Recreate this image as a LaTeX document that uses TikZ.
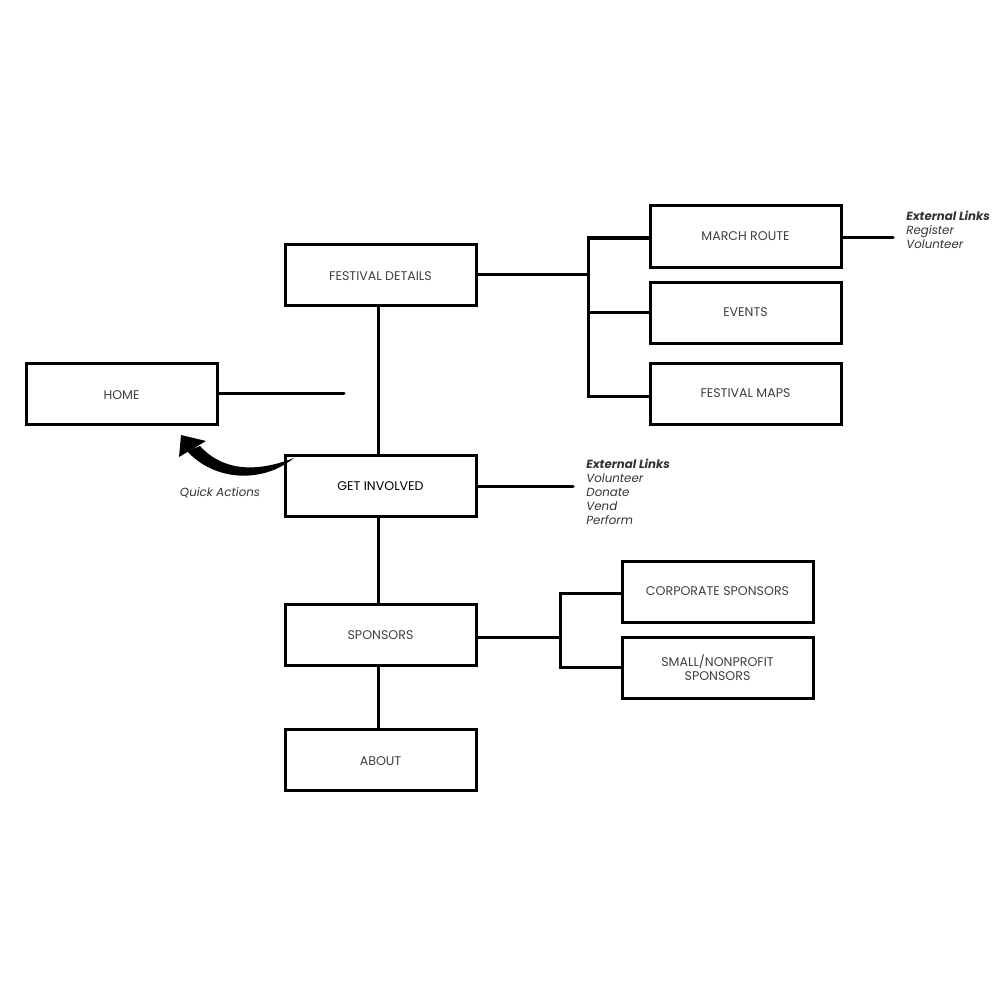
\documentclass[tikz,border=0pt]{standalone}
\usepackage{fontspec}
\setmainfont{Poppins}
\begin{document}
\begin{tikzpicture}[x=0.5pt,y=-0.5pt,
  box/.style={draw=black, line width=1.5pt, minimum width=95.5pt, minimum height=30.5pt, inner sep=0pt, fill=white, text=black!75, font=\fontsize{6.3}{7.2}\selectfont, align=center},
  one/.style={text depth=0pt},
  low/.style={text height=5.9pt, text depth=0pt},
  conn/.style={line width=1.5pt, line cap=round},
  links/.style={anchor=north west, align=left, inner sep=0pt, font=\fontsize{5.9}{7}\selectfont\itshape, text=black!80},
]
\useasboundingbox (0,0) rectangle (1000,1000);
\fill[white] (0,0) rectangle (1000,1000);

% boxes
\node[box, low] (fd) at (380.5,274.5) {FESTIVAL DETAILS};
\node[box, low] (home) at (121.5,393.5) {HOME};
\node[box, one, text=black] (gi) at (380.5,486) {GET INVOLVED};
\node[box, one] (sp) at (380.5,635) {SPONSORS};
\node[box, low] (ab) at (380.5,759.5) {ABOUT};
\node[box, one] (mr) at (745.5,236.5) {MARCH ROUTE};
\node[box, one] (ev) at (745.5,312.5) {EVENTS};
\node[box, one] (fm) at (745.5,393.5) {FESTIVAL MAPS};
\node[box, one] (cs) at (717.5,591.5) {CORPORATE SPONSORS};
\node[box] (sn) at (717.5,667.5) {SMALL/NONPROFIT\\SPONSORS};

% coordinates
\coordinate (hend) at (344,393);
\coordinate (fj) at (588,274);
\coordinate (giend) at (573,486);
\coordinate (sj) at (560,637);
\coordinate (mrend) at (893,237.5);

% connectors
\draw[conn] (home.east |- hend) -- (hend);
\draw[conn] ([xshift=-1pt]fd.south) -- ([xshift=-1pt]gi.north);
\draw[conn] ([xshift=-1pt]gi.south) -- ([xshift=-1pt]sp.north);
\draw[conn] ([xshift=-1pt]sp.south) -- ([xshift=-1pt]ab.north);
\draw[conn] (fd.east |- fj) -- (fj);
\draw[conn, line join=miter, line cap=butt] (mr.west |- 0,238) -- (fj |- 0,238) -- (fj |- 0,396) -- (fm.west |- 0,396);
\draw[conn, line cap=butt] (fj |- ev.west) -- (ev.west);
\draw[conn] (mr.east |- mrend) -- (mrend);
\draw[conn] (gi.east |- giend) -- (giend);
\draw[conn] (sp.east |- sj) -- (sj);
\draw[conn, line join=miter, line cap=butt] (cs.west |- 0,593) -- (sj |- 0,593) -- (sj |- 0,667) -- (sn.west |- 0,667);

% external links
\node[links] (el1) at (906,211) {{\bfseries External Links}\\Register\\Volunteer};
\node[links] (el2) at (586,459) {{\bfseries External Links}\\Volunteer\\Donate\\Vend\\Perform};

% quick actions arrow
\fill[black] (181,435) -- (206,441) -- (179,457) -- cycle;
\fill[black] (200,446) .. controls (218,466) and (248,476) .. (294,458)
  .. controls (262,484) and (214,481) .. (187,451) -- cycle;
\node[inner sep=0pt, font=\fontsize{5.9}{7}\selectfont\itshape, text=black!80] (qa) at (220,493) {Quick Actions};
\end{tikzpicture}
\end{document}
